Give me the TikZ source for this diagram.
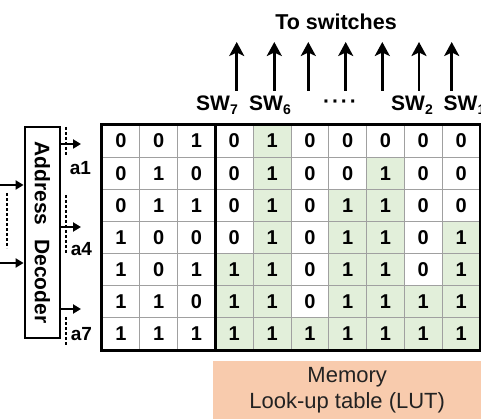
\documentclass[tikz,border=0pt]{standalone}
\usepackage{fontspec}
\usepackage{graphicx}
\setmainfont{Liberation Sans}
\usetikzlibrary{arrows.meta}
\definecolor{cellgreen}{HTML}{E2EFDA}
\definecolor{lutfill}{HTML}{F8CBAD}
\definecolor{gridgray}{HTML}{A0A0A0}
\definecolor{luttext}{HTML}{222222}
\newcommand{\fsz}[1]{\fontsize{#1}{#1}\selectfont}
\newcommand{\swlab}[1]{SW\raisebox{-0.35ex}{\fsz{14}#1}}
\begin{document}
\begin{tikzpicture}[x=1pt,y=-1pt,
  cellbox/.style={rectangle,draw=gridgray,line width=0.8pt,inner sep=0pt,
    minimum width=37.8pt,minimum height=32.14pt,font=\bfseries\fsz{20}},
  cellfill0/.style={fill=white},
  cellfill1/.style={fill=cellgreen},
  decbox/.style={draw,line width=2.8pt,inner sep=0pt,minimum width=35pt,
    minimum height=211pt,font=\bfseries\fsz{21}},
  outarr/.style={line width=2pt,-{Triangle[length=8pt,width=9pt]}},
  inarr/.style={line width=2pt,-{Triangle[length=8pt,width=9pt]}},
  swarr/.style={line width=2.8pt,-{Stealth[length=14pt,width=15pt,inset=3.5pt]}},
  alab/.style={font=\bfseries\fsz{19},inner sep=0pt},
  swtext/.style={font=\bfseries\fsz{21},inner sep=0pt},
  dashln/.style={line width=1.2pt,dash pattern=on 3pt off 2pt}]
\useasboundingbox (0,0) rectangle (481,419);
\clip (0,0) rectangle (481,419);

% grid cells
\foreach \r/\bits in {1/{0,0,1,0,1,0,0,0,0,0},
                      2/{0,1,0,0,1,0,0,1,0,0},
                      3/{0,1,1,0,1,0,1,1,0,0},
                      4/{1,0,0,0,1,0,1,1,0,1},
                      5/{1,0,1,1,1,0,1,1,0,1},
                      6/{1,1,0,1,1,0,1,1,1,1},
                      7/{1,1,1,1,1,1,1,1,1,1}}{
  \foreach \b [count=\c] in \bits {
    \pgfmathtruncatemacro{\g}{(\c>3)*\b}
    \node[cellbox,cellfill\g] (cell-\r-\c) at ({102+37.8*(\c-0.5)},{125+32.14*(\r-0.5)}) {\b};
  }
}
\draw[line width=3pt] (cell-1-1.north west) rectangle (cell-7-10.south east);
\draw[line width=3pt] (cell-1-4.north west) -- (cell-7-4.south west);

% address decoder
\node[decbox] (dec) at (42.5,232.5) {\rotatebox{-90}{Address\hspace{14pt}Decoder}};

% inputs
\coordinate (in1) at (0,185);
\coordinate (in2) at (0,263);
\draw[inarr] (in1) -- (in1 -| dec.west);
\draw[inarr] (in2) -- (in2 -| dec.west);
\draw[dashln] (7,193) -- (7,248);

% outputs
\coordinate (o1) at (81,144);
\coordinate (o4) at (81,227);
\coordinate (o7) at (81,309);
\draw[outarr] (o1 -| dec.east) -- (o1);
\draw[outarr] (o4 -| dec.east) -- (o4);
\draw[outarr] (o7 -| dec.east) -- (o7);
\draw[dashln] (66,127) -- (66,156);
\draw[dashln] (66,195) -- (66,253);
\draw[dashln] (66,317) -- (66,345);
\node[alab] (a1) at (80.5,168) {a1};
\node[alab] (a4) at (81.5,249) {a4};
\node[alab] (a7) at (81.5,334) {a7};

% top arrows and labels
\node[font=\bfseries\fsz{21.5},inner sep=0pt] (toswitch) at (336,22) {To switches};
\foreach \x [count=\i] in {236.7,274.3,308.3,345.7,382.3,419,451.7}{
  \coordinate (sb\i) at (\x,91);
  \coordinate (st\i) at (\x,42);
  \draw[swarr] (sb\i) -- (st\i);
}
\node[swtext] (sw7) at (217,105.5) {\swlab{7}};
\node[swtext] (sw6) at (270,105.5) {\swlab{6}};
\node[swtext] (swdots) at (340,104) {·\kern2pt·\kern2pt·\kern2pt·};
\node[swtext] (sw2) at (412,105.5) {\swlab{2}};
\node[swtext,anchor=west] (sw1) at (443.5,105.5) {\swlab{1}};

% LUT label
\node[fill=lutfill,anchor=north west,minimum width=268pt,minimum height=58.3pt,
  inner sep=0pt,align=center,text=luttext,font=\fsz{22}] (lut) at (213,360.7)
  {Memory\\[4pt]Look-up table (LUT)};
\end{tikzpicture}
\end{document}
